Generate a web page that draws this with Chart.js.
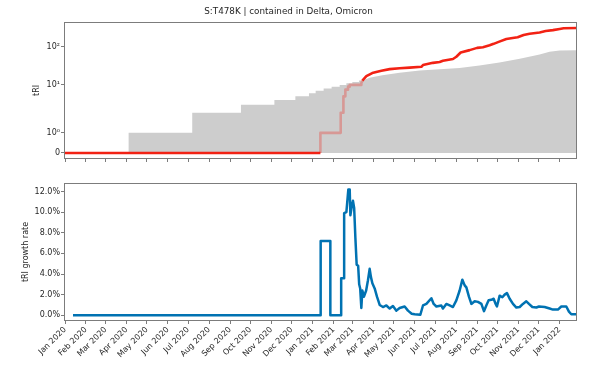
<!DOCTYPE html>
<html><head><meta charset="utf-8">
<script src="https://cdn.jsdelivr.net/npm/chart.js@4.4.1/dist/chart.umd.min.js"></script>
<style>
html,body{margin:0;padding:0;background:#fff;}
#wrap{position:relative;width:599px;height:379px;overflow:hidden;background:#fff;}
canvas{position:absolute;left:0;}
#c1{top:0;} #c2{top:170px;}
</style></head><body>
<div id="wrap"><canvas id="c1" width="599" height="170"></canvas><canvas id="c2" width="599" height="209"></canvas></div>
<script>
// ---- data (x = days since 2020-01-01) ----
const titleText = 'S:T478K | contained in Delta, Omicron';
const tickDays = [0,31,60,91,121,152,182,213,244,274,305,335,366,397,425,456,486,517,547,578,609,639,670,700,731];
const tickLabels = ['Jan 2020','Feb 2020','Mar 2020','Apr 2020','May 2020','Jun 2020','Jul 2020','Aug 2020','Sep 2020','Oct 2020','Nov 2020','Dec 2020',
  'Jan 2021','Feb 2021','Mar 2021','Apr 2021','May 2021','Jun 2021','Jul 2021','Aug 2021','Sep 2021','Oct 2021','Nov 2021','Dec 2021','Jan 2022'];
const xMin = -1.5, xMax = 756.6;

const topTickValues = [0, 1, 10, 100];
const topTickLabels = ['0', '10\u2070', '10\u00b9', '10\u00b2'];

const redDays = [-1.5,377.4,377.4,407.4,407.4,411.4,411.4,414.3,414.3,418.2,418.2,420.7,420.7,437.9,437.9,439.4,445.3,454,467.5,479.8,
  494.5,509.3,526.6,529,543.7,553.6,558.5,573.3,578.3,584.7,598,609,617.6,627.5,633.4,640.8,652.2,661.5,668.9,677.7,
  686.6,701.4,710.3,721,731,736.8,756.6];
const redVals = [0,0,1,1,2,2,5,5,7.5,7.5,9,9,10,10,11,13,17,20.5,23.4,26,
  27.5,28.5,29.9,33.2,38,40,43,48,55,71,82,94,98,110,120,135,160,170,178,204,
  220,238,262,275,295,308,314];

const greyDays = [-1.5,94,94,188,188,260,260,309.4,309.4,340.4,340.4,360.5,360.5,370.4,370.4,382.2,382.2,394,394,405.9,
  405.9,415.8,415.8,424.6,424.6,434.4,434.4,440,450,469,494.5,524,553.6,583,612.5,642,672,701.4,716,731,756.6];
const greyVals = [0,0,1,1,2,2,3,3,4,4,5,5,6,6,7,7,8,8,9,9,
  10,10,11,11,12,12,13,13,15.5,18,21,24,25.7,28,32.5,39,48.5,63,74,80.5,81.5];

const blueDays = [11.8,377.8,377.8,392.1,392.1,408.1,408.1,412.5,412.5,415.8,418.7,420.7,421.7,423.6,425.5,427.3,429.1,431,433.2,434.7,
  436.2,437.9,439.4,441.8,445,447.7,450.2,452.1,454.2,457.6,461,465,469.9,474.9,479.8,484.6,489.7,494.5,501.9,506.8,
  512.3,516.7,525.1,529,534,541.4,544.8,548.8,556.1,558.5,563.5,568.4,573.3,578.3,583.2,587.2,590.6,593.1,596.9,600.5,
  605.4,610.2,615.3,619.1,622.6,626,630,633.4,636.4,638.3,642.3,646.3,649.7,653.1,657.1,662,667,671.9,676.7,681.7,
  685.6,690.6,696.5,700.4,708.8,716.2,721,728.4,733.4,740.8,744.7,748.2,756.6];
const blueVals = [0,0,7.2,7.2,0,0,3.6,3.6,9.9,10.0,12.2,12.2,9.7,10.5,11.1,10.4,7.5,4.9,4.8,3.0,
  2.6,0.7,2.4,1.8,2.4,3.4,4.5,3.7,3.1,2.6,1.8,1.0,0.8,0.95,0.65,0.9,0.45,0.7,0.85,0.45,
  0.15,0.1,0.05,0.95,1.1,1.65,1.1,0.85,0.95,0.65,1.1,0.95,0.8,1.45,2.4,3.45,2.9,2.7,1.8,1.1,
  1.35,1.3,1.1,0.4,0.95,1.45,1.5,1.6,1.1,0.85,1.9,1.75,2.0,2.15,1.6,1.1,0.75,0.8,1.1,1.35,
  1.1,0.8,0.75,0.85,0.8,0.65,0.55,0.55,0.85,0.85,0.35,0.1,0.1];
const bottomTicks = [0,2,4,6,8,10,12];

// ---- styling ----
const FONT = 'DejaVu Sans';
const TXT = '#262626';
const SPINE = '#7c7c7c';
const RED = 'rgb(242,34,20)';
const RED_FADED = 'rgba(240,30,20,0.3)';
const GREY = '#cdcdcd';
const BLUE = '#0072b2';

// symmetric-log scale (linear below linthresh, log10 above), as in matplotlib 'symlog'
class SymLogScale extends Chart.Scale {
  tf(v) {
    const t = this.options.linthresh, k = 1 / (1 - 0.1);
    const a = Math.abs(v), s = v < 0 ? -1 : 1;
    return a <= t ? v * k : s * t * (k + Math.log10(a / t));
  }
  itf(y) {
    const t = this.options.linthresh, k = 1 / (1 - 0.1);
    const a = Math.abs(y), s = y < 0 ? -1 : 1;
    return a <= t * k ? y / k : s * t * Math.pow(10, a / t - k);
  }
  parse(raw) { return raw == null ? null : +raw; }
  determineDataLimits() { this.min = this.options.min; this.max = this.options.max; }
  buildTicks() { return []; }
  configure() { super.configure(); this._tmin = this.tf(this.min); this._tmax = this.tf(this.max); }
  getPixelForValue(v) {
    if (v == null || isNaN(v)) return NaN;
    return this.getPixelForDecimal((this.tf(v) - this._tmin) / (this._tmax - this._tmin));
  }
  getValueForPixel(p) {
    const d = this.getDecimalForPixel(p);
    return this.itf(this._tmin + d * (this._tmax - this._tmin));
  }
}
SymLogScale.id = 'symlog';
SymLogScale.defaults = {};
Chart.register(SymLogScale);

const boxPlugin = {
  id: 'box',
  afterDatasetsDraw(chart) {
    const {ctx, chartArea: a} = chart;
    ctx.save();
    ctx.strokeStyle = SPINE; ctx.lineWidth = 1;
    const l = Math.round(a.left), t = Math.round(a.top), r = Math.round(a.right), b = Math.round(a.bottom);
    ctx.strokeRect(l + 0.5, t + 0.5, r - l - 1, b - t - 1);
    ctx.restore();
  }
};

function greyAt(d) {
  let i = 0;
  for (let j = 0; j < greyDays.length; j++) if (greyDays[j] <= d) i = j;
  if (i >= greyDays.length - 1 || greyDays[i + 1] === greyDays[i]) return greyVals[i];
  const f = (d - greyDays[i]) / (greyDays[i + 1] - greyDays[i]);
  return greyVals[i] + f * (greyVals[i + 1] - greyVals[i]);
}

const xCommon = (showLabels) => ({
  type: 'linear', min: xMin, max: xMax,
  afterBuildTicks: s => { s.ticks = tickDays.map(v => ({value: v})); },
  grid: {display: true, drawOnChartArea: false, drawTicks: true, tickLength: 3, color: SPINE, lineWidth: 1},
  border: {display: false},
  ticks: {
    display: showLabels, autoSkip: false, minRotation: 45, maxRotation: 45, padding: 1,
    font: {family: FONT, size: 8}, color: TXT,
    callback: (v, i) => tickLabels[i]
  }
});

new Chart(document.getElementById('c1'), {
  type: 'line',
  data: {
    datasets: [
      {
        data: redDays.map((d, i) => ({x: d, y: redVals[i]})),
        borderColor: RED, borderWidth: 2.6, pointRadius: 0, fill: false, order: 0,
        borderJoinStyle: 'round',
        segment: {
          borderColor: ctx => {
            const i = ctx.p0DataIndex;
            return redVals[i] >= greyAt(redDays[i]) - 1e-9 ? RED : RED_FADED;
          }
        }
      },
      {
        data: greyDays.map((d, i) => ({x: d, y: greyVals[i]})),
        borderWidth: 0, borderColor: 'rgba(0,0,0,0)', backgroundColor: GREY, pointRadius: 0,
        fill: 'origin', order: 1
      }
    ]
  },
  options: {
    responsive: false, animation: false, devicePixelRatio: 1,
    layout: {padding: {left: 0, right: 22, top: 0, bottom: 0}},
    plugins: {
      legend: {display: false}, tooltip: {enabled: false},
      title: {display: true, text: titleText, color: TXT, font: {family: FONT, size: 8.8, weight: 'normal'}, padding: {top: 6.3, bottom: 5.1}}
    },
    scales: {
      x: Object.assign(xCommon(false), {afterFit: s => { s.height = 11; }}),
      y: {
        type: 'symlog', min: -0.3, max: 451, linthresh: 2.1,
        afterBuildTicks: s => { s.ticks = topTickValues.map(v => ({value: v})); },
        afterFit: s => { s.width = 64; },
        grid: {display: true, drawOnChartArea: false, drawTicks: true, tickLength: 3, color: SPINE, lineWidth: 1},
        border: {display: false},
        ticks: {autoSkip: false, padding: 1, font: {family: FONT, size: 8}, color: TXT,
          callback: (v, i) => topTickLabels[i]},
        title: {display: true, text: 'tRI', color: TXT, font: {family: FONT, size: 8}, padding: {top: 32, bottom: 0}}
      }
    }
  },
  plugins: [boxPlugin]
});

new Chart(document.getElementById('c2'), {
  type: 'line',
  data: {
    datasets: [{
      data: blueDays.map((d, i) => ({x: d, y: blueVals[i]})),
      borderColor: BLUE, borderWidth: 2.5, pointRadius: 0, fill: false, borderJoinStyle: 'round'
    }]
  },
  options: {
    responsive: false, animation: false, devicePixelRatio: 1,
    layout: {padding: {left: 0, right: 22, top: 13, bottom: 0}},
    plugins: {legend: {display: false}, tooltip: {enabled: false}, title: {display: false}},
    scales: {
      x: Object.assign(xCommon(true), {afterFit: s => { s.height = 58; }}),
      y: {
        type: 'linear', min: -0.555, max: 12.82,
        afterBuildTicks: s => { s.ticks = bottomTicks.map(v => ({value: v})); },
        afterFit: s => { s.width = 64; },
        grid: {display: true, drawOnChartArea: false, drawTicks: true, tickLength: 3, color: SPINE, lineWidth: 1},
        border: {display: false},
        ticks: {autoSkip: false, padding: 1, font: {family: FONT, size: 8}, color: TXT,
          callback: v => v.toFixed(1) + '%'},
        title: {display: true, text: 'tRI growth rate', color: TXT, font: {family: FONT, size: 8}, padding: {top: 21, bottom: 0}}
      }
    }
  },
  plugins: [boxPlugin]
});
</script>
</body></html>
